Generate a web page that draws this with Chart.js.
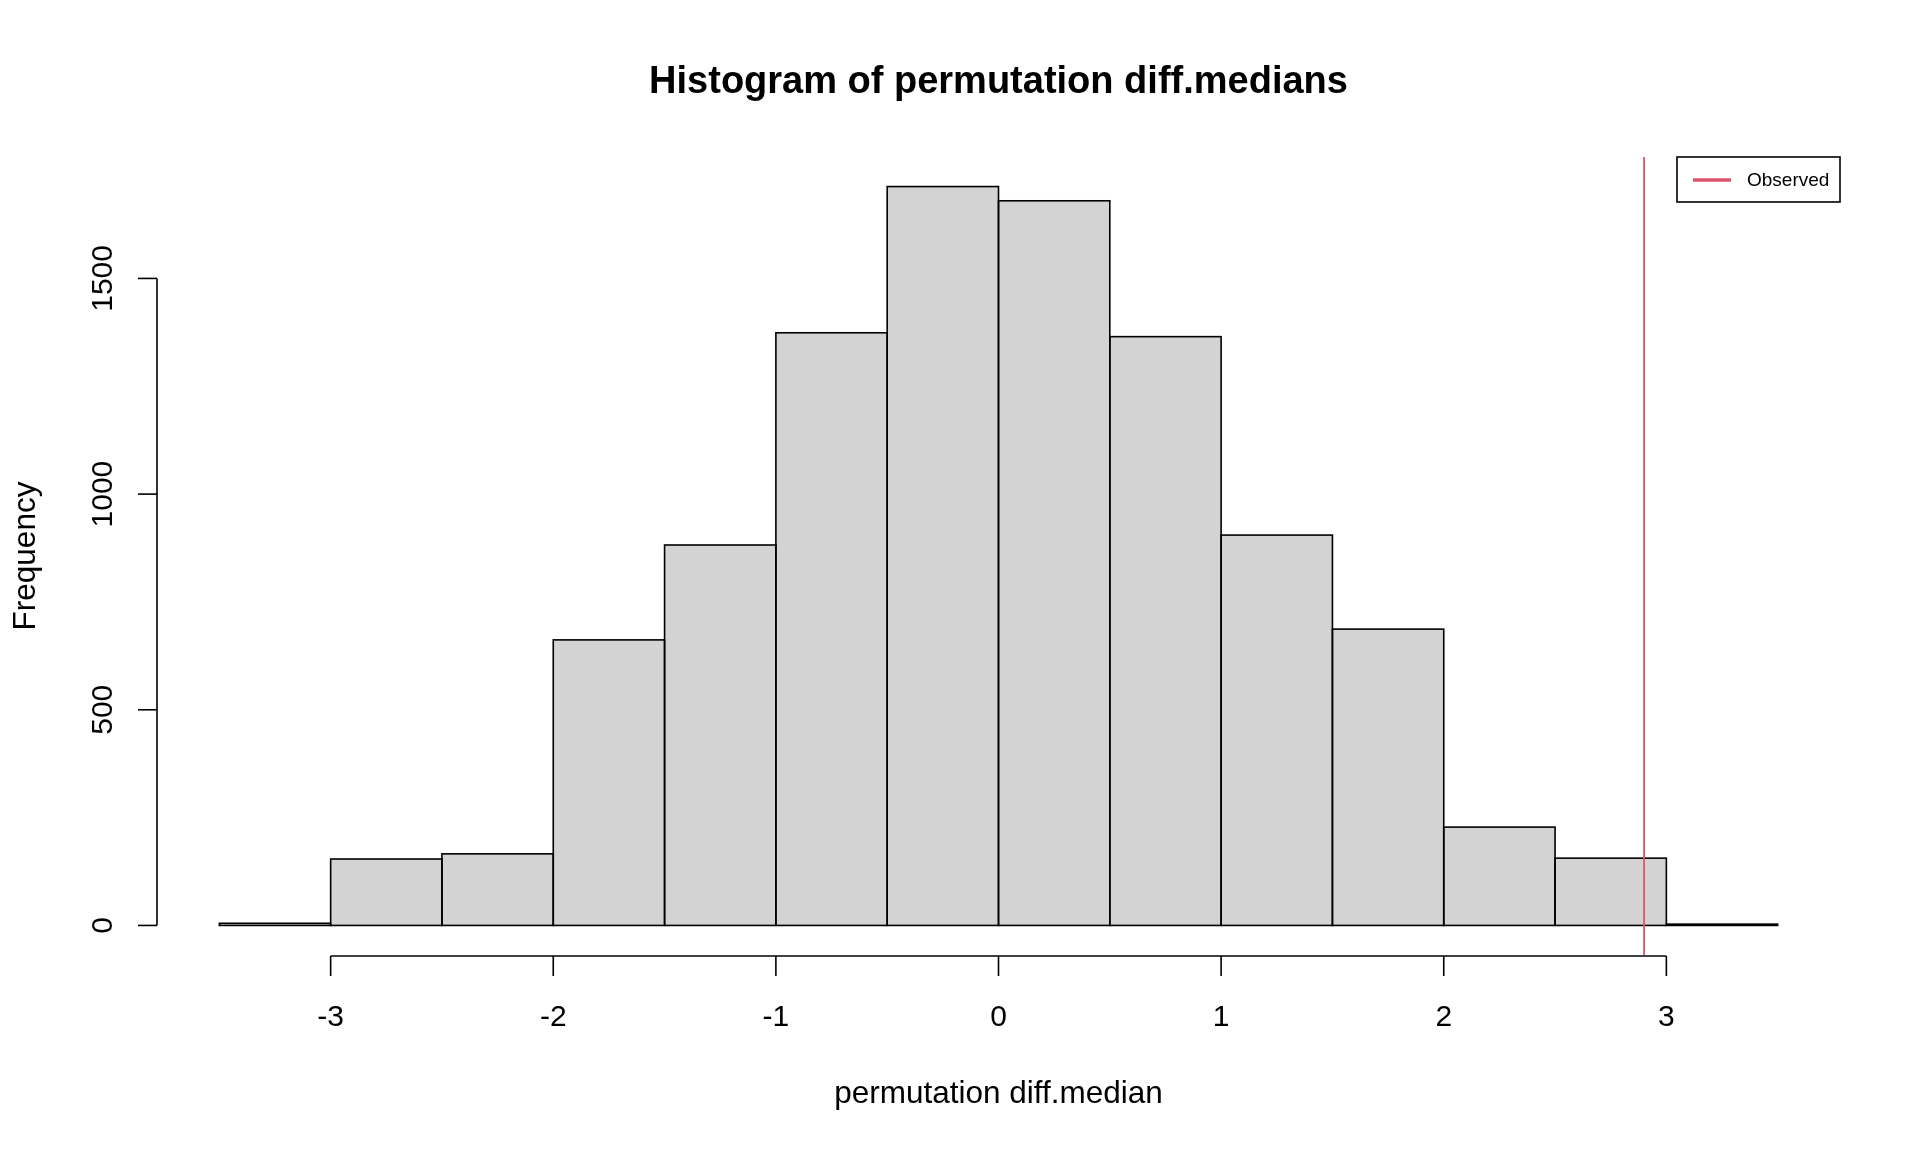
<!DOCTYPE html>
<html><head><meta charset="utf-8">
<script src="https://cdn.jsdelivr.net/npm/chart.js@4.4.1/dist/chart.umd.min.js"></script>
<style>html,body{margin:0;padding:0;background:#fff;overflow:hidden}canvas{display:block}</style>
</head><body>
<canvas id="c" width="1920" height="1152"></canvas>
<script>
// ---- data ----
const binStarts = [-3.5,-3,-2.5,-2,-1.5,-1,-0.5,0,0.5,1,1.5,2,2.5,3];
const binWidth = 0.5;
const counts = [5,154,166,662,882,1374,1713,1680,1365,905,687,228,156,3];
const xTicks = [-3,-2,-1,0,1,2,3];
const yTicks = [0,500,1000,1500];
const observed = 2.9;
const titleText = 'Histogram of permutation diff.medians';
const xLabel = 'permutation diff.median';
const yLabel = 'Frequency';
const legendLabel = 'Observed';

// ---- style ----
const FONT = '"Liberation Sans", Arial, Helvetica, sans-serif';
const RED = '#DF536B';
const xLo = binStarts[0], xHi = binStarts[binStarts.length-1] + binWidth;
const xPad = (xHi - xLo) * 0.04;
const yMaxData = Math.max(...counts);
const yPad = yMaxData * 0.04;

const points = counts.map((c,i) => ({x: binStarts[i] + binWidth/2, y: c}));

const rPlugin = {
  id: 'rstyle',
  beforeDraw(chart) {
    const ctx = chart.ctx;
    ctx.save();
    ctx.fillStyle = '#fff';
    ctx.fillRect(0,0,chart.width,chart.height);
    ctx.restore();
  },
  afterDatasetsDraw(chart) {
    const ctx = chart.ctx;
    const meta = chart.getDatasetMeta(0);
    ctx.save();
    ctx.strokeStyle = '#000';
    ctx.lineWidth = 1.6;
    meta.data.forEach(el => {
      const p = el.getProps(['x','y','base','width'], true);
      ctx.strokeRect(p.x - p.width/2, p.y, p.width, p.base - p.y);
    });
    ctx.restore();
  },
  afterDraw(chart) {
    const ctx = chart.ctx;
    const xs = chart.scales.x, ys = chart.scales.y;
    const ca = chart.chartArea;
    ctx.save();
    // observed line
    ctx.save();
    ctx.beginPath();
    ctx.rect(ca.left, ca.top, ca.right-ca.left, ca.bottom-ca.top);
    ctx.clip();
    ctx.strokeStyle = RED;
    ctx.lineWidth = 1.8;
    const ox = xs.getPixelForValue(observed);
    ctx.beginPath(); ctx.moveTo(ox, ca.top); ctx.lineTo(ox, ca.bottom); ctx.stroke();
    ctx.restore();

    ctx.strokeStyle = '#000';
    ctx.fillStyle = '#000';
    ctx.lineWidth = 1.6;
    // x axis
    const axY = ca.bottom + 1;
    const x0 = xs.getPixelForValue(xTicks[0]), x1 = xs.getPixelForValue(xTicks[xTicks.length-1]);
    ctx.beginPath(); ctx.moveTo(x0, axY); ctx.lineTo(x1, axY); ctx.stroke();
    ctx.font = '30px ' + FONT;
    ctx.textAlign = 'center';
    ctx.textBaseline = 'alphabetic';
    xTicks.forEach(t => {
      const px = xs.getPixelForValue(t);
      ctx.beginPath(); ctx.moveTo(px, axY); ctx.lineTo(px, axY + 20); ctx.stroke();
      ctx.fillText(String(t), px, 1026);
    });
    // y axis
    const axX = ca.left;
    const y0 = ys.getPixelForValue(yTicks[0]), y1 = ys.getPixelForValue(yTicks[yTicks.length-1]);
    ctx.beginPath(); ctx.moveTo(axX, y0); ctx.lineTo(axX, y1); ctx.stroke();
    yTicks.forEach(t => {
      const py = ys.getPixelForValue(t);
      ctx.beginPath(); ctx.moveTo(axX, py); ctx.lineTo(axX - 19, py); ctx.stroke();
      ctx.save();
      ctx.translate(111.5, py);
      ctx.rotate(-Math.PI/2);
      ctx.textAlign = 'center';
      ctx.fillText(String(t), 0, 0);
      ctx.restore();
    });
    // title
    const cx = (ca.left + ca.right) / 2;
    ctx.font = 'bold 38px ' + FONT;
    ctx.textAlign = 'center';
    ctx.fillText(titleText, cx, 93);
    // x label
    ctx.font = '31.5px ' + FONT;
    ctx.fillText(xLabel, cx, 1103);
    // y label
    ctx.save();
    ctx.translate(35, (ca.top + ca.bottom) / 2);
    ctx.rotate(-Math.PI/2);
    ctx.fillText(yLabel, 0, 0);
    ctx.restore();
    // legend
    const bx1 = ca.right, by0 = ca.top;
    const bx0 = 1677, by1 = 202;
    ctx.lineWidth = 1.6;
    ctx.strokeRect(bx0, by0, bx1 - bx0, by1 - by0);
    ctx.strokeStyle = RED;
    ctx.lineWidth = 3.5;
    const ly = (by0 + by1) / 2 + 0.5;
    ctx.beginPath(); ctx.moveTo(1693, ly); ctx.lineTo(1731, ly); ctx.stroke();
    ctx.font = '19px ' + FONT;
    ctx.textAlign = 'left';
    ctx.textBaseline = 'middle';
    ctx.fillStyle = '#000';
    ctx.fillText(legendLabel, 1747, ly + 1);
    ctx.restore();
  }
};

new Chart(document.getElementById('c').getContext('2d'), {
  type: 'bar',
  data: {
    datasets: [{
      data: points,
      backgroundColor: '#D3D3D3',
      borderWidth: 0,
      barPercentage: 1,
      categoryPercentage: 1,
      inflateAmount: 0
    }]
  },
  options: {
    responsive: false,
    animation: false,
    devicePixelRatio: 1,
    layout: { padding: { left: 157, right: 80, top: 157, bottom: 197 } },
    plugins: { legend: { display: false }, tooltip: { enabled: false } },
    scales: {
      x: { type: 'linear', offset: false, min: xLo - xPad, max: xHi + xPad, display: false },
      y: { type: 'linear', min: -yPad, max: yMaxData + yPad, display: false }
    }
  },
  plugins: [rPlugin]
});
</script>
</body></html>
